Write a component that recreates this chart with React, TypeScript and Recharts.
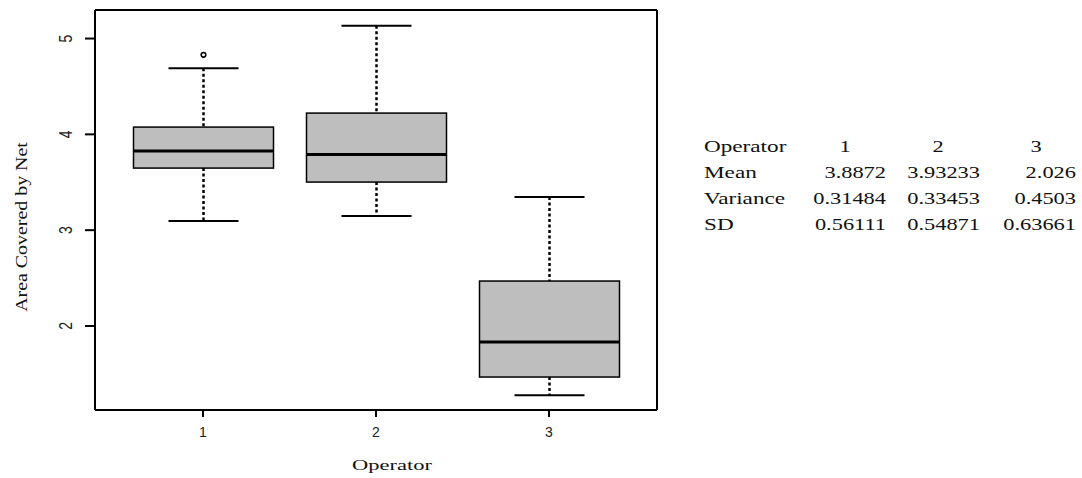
import { ComposedChart, Bar, XAxis, YAxis } from "recharts";

// five-number summaries
const operators = ["1", "2", "3"];
const whiskerLow = [3.095, 3.148, 1.276];
const q1 = [3.648, 3.502, 1.467];
const median = [3.826, 3.789, 1.832];
const q3 = [4.076, 4.222, 2.469];
const whiskerHigh = [4.69, 5.134, 3.345];
const outliers = [[4.83], [], []];
const yTicks = [2, 3, 4, 5];

// summary table on the right
const statLabels = ["Mean", "Variance", "SD"];
const means = ["3.8872", "3.93233", "2.026"];
const variances = ["0.31484", "0.33453", "0.4503"];
const sds = ["0.56111", "0.54871", "0.63661"];

const data = operators.map((op, i) => ({
  operator: op,
  low: whiskerLow[i],
  q1: q1[i],
  median: median[i],
  q3: q3[i],
  high: whiskerHigh[i],
  outliers: outliers[i],
}));

const serif = "'Liberation Serif', 'Times New Roman', serif";
const sans = "'Liberation Sans', Arial, sans-serif";

function BoxShape(props: any) {
  const { x, y, width, height, payload } = props;
  const top = Math.min(y, y + height);
  const h = Math.abs(height);
  const unit = h / (payload.high - payload.low);
  const py = (v: number) => top + (payload.high - v) * unit;
  const cx = x + width / 2;
  const cap = width / 4;
  return (
    <g>
      <line x1={cx} x2={cx} y1={py(payload.high)} y2={py(payload.q3)} stroke="#000" strokeWidth={2.5} strokeDasharray="3 2.5" />
      <line x1={cx} x2={cx} y1={py(payload.q1)} y2={py(payload.low)} stroke="#000" strokeWidth={2.5} strokeDasharray="3 2.5" />
      <line x1={cx - cap} x2={cx + cap} y1={py(payload.high)} y2={py(payload.high)} stroke="#000" strokeWidth={2} />
      <line x1={cx - cap} x2={cx + cap} y1={py(payload.low)} y2={py(payload.low)} stroke="#000" strokeWidth={2} />
      <rect x={x} y={py(payload.q3)} width={width} height={py(payload.q1) - py(payload.q3)} fill="#bebebe" stroke="#000" strokeWidth={1.5} />
      <line x1={x} x2={x + width} y1={py(payload.median)} y2={py(payload.median)} stroke="#000" strokeWidth={3} />
      {payload.outliers.map((v: number, k: number) => (
        <circle key={k} cx={cx} cy={py(v)} r={2.3} fill="none" stroke="#000" strokeWidth={1.6} />
      ))}
    </g>
  );
}

function XTick(props: any) {
  const { x, y, payload } = props;
  return (
    <text x={x} y={y + 18} textAnchor="middle" fontFamily={sans} fontSize={14} fill="#222">
      {payload.value}
    </text>
  );
}

function YTick(props: any) {
  const { x, y, payload } = props;
  return (
    <text
      transform={`translate(${x},${y}) rotate(-90) scale(1,1.35)`}
      textAnchor="middle"
      fontFamily={sans}
      fontSize={14}
      fill="#222"
    >
      {payload.value}
    </text>
  );
}

export default function App() {
  const cols = [851, 943, 1040];
  const colRight = [886, 980, 1076];
  const headerX = [845, 938, 1036];
  const rows = [means, variances, sds];
  return (
    <div style={{ position: "absolute", left: 0, top: 0, width: 1082, height: 478, background: "#fff" }}>
      <ComposedChart width={1082} height={478} data={data} margin={{ top: 0, right: 415, bottom: 0, left: 0 }}>
        <XAxis
          dataKey="operator"
          height={68}
          padding={{ left: 21.5, right: 21.5 }}
          stroke="#000"
          axisLine={{ stroke: "#000", strokeWidth: 2 }}
          tickLine={{ stroke: "#000", strokeWidth: 2 }}
          tickSize={7}
          tickMargin={2}
          tick={<XTick />}
        />
        <XAxis xAxisId="top" dataKey="operator" orientation="top" height={10} tick={false} tickLine={false} axisLine={{ stroke: "#000", strokeWidth: 2 }} />
        <YAxis
          type="number"
          width={95}
          domain={[1.123, 5.298]}
          ticks={yTicks}
          allowDataOverflow
          axisLine={{ stroke: "#000", strokeWidth: 2 }}
          tickLine={{ stroke: "#000", strokeWidth: 2 }}
          tickSize={10}
          tickMargin={13}
          tick={<YTick />}
        />
        <YAxis yAxisId="right" orientation="right" width={10} domain={[1.123, 5.298]} tick={false} tickLine={false} axisLine={{ stroke: "#000", strokeWidth: 2 }} />
        <Bar dataKey={(d: any) => [d.low, d.high]} barSize={140} shape={<BoxShape />} isAnimationActive={false} />
      </ComposedChart>
      <svg width={1082} height={478} style={{ position: "absolute", left: 0, top: 0, pointerEvents: "none" }}>
        <text transform="translate(392,470) scale(1.5,1)" textAnchor="middle" fontFamily={serif} fontSize={15} fill="#111">
          Operator
        </text>
        <text transform="translate(27,227) rotate(-90) scale(1.17,1)" textAnchor="middle" fontFamily={serif} fontSize={17} fill="#111">
          Area Covered by Net
        </text>
        <text transform="translate(704,152) scale(1.45,1)" fontFamily={serif} fontSize={16} fill="#111">
          Operator
        </text>
        {operators.map((op, i) => (
          <text key={op} transform={`translate(${headerX[i]},152) scale(1.4,1)`} textAnchor="middle" fontFamily={serif} fontSize={16} fill="#111">
            {op}
          </text>
        ))}
        {statLabels.map((label, r) => (
          <g key={label}>
            <text transform={`translate(704,${178 + r * 26}) scale(1.45,1)`} fontFamily={serif} fontSize={16} fill="#111">
              {label}
            </text>
            {rows[r].map((v, i) => (
              <text key={i} transform={`translate(${colRight[i]},${178 + r * 26}) scale(1.4,1)`} textAnchor="end" fontFamily={serif} fontSize={16} fill="#111" data-col={cols[i]}>
                {v}
              </text>
            ))}
          </g>
        ))}
      </svg>
    </div>
  );
}
